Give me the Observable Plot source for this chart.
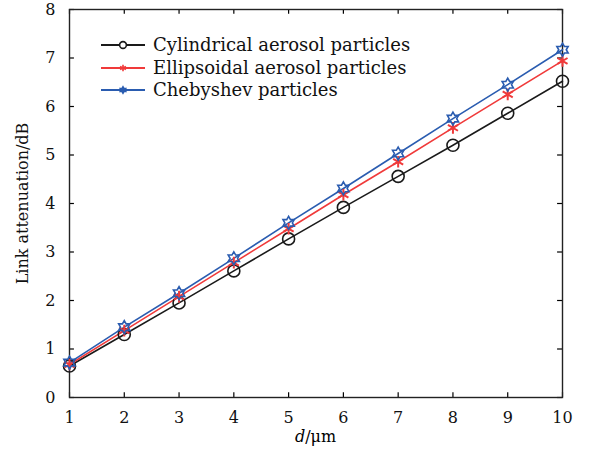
<!DOCTYPE html>
<html><head><meta charset="utf-8">
<script src="https://cdn.jsdelivr.net/npm/d3@7"></script>
<script src="https://cdn.jsdelivr.net/npm/@observablehq/plot@0.6"></script>
<style>
body{margin:0;background:#fff;}
#wrap{position:relative;width:591px;height:453px;font-family:"DejaVu Serif",serif;}
#legend{position:absolute;left:99px;top:34px;font-size:18px;line-height:22px;color:#111;font-family:"DejaVu Serif",serif;}
#legend .row{display:flex;align-items:center;height:22.5px;}
#legend svg{margin-right:6px;}
</style>
</head><body>
<div id="wrap"><div id="legend"></div></div>
<script>
const dValues = [1,2,3,4,5,6,7,8,9,10];
const cylindrical = [0.65,1.30,1.95,2.61,3.27,3.92,4.56,5.20,5.86,6.52];
const ellipsoidal = [0.68,1.38,2.08,2.78,3.48,4.18,4.86,5.56,6.25,6.94];
const chebyshev  = [0.72,1.45,2.15,2.87,3.60,4.31,5.03,5.75,6.45,7.17];
const seriesNames = ["Cylindrical aerosol particles","Ellipsoidal aerosol particles","Chebyshev particles"];
const seriesColors = ["#1a1a1a","#f03a3a","#2a5cb0"];
const xTicks = [1,2,3,4,5,6,7,8,9,10];
const yTicks = [0,1,2,3,4,5,6,7,8];

const xDomain = [1, 10], yDomain = [0, 8];
const xTickLen = 0.1, yTickLen = 0.09; // inward tick length in data units (~5px)

const hexagram = {
  draw(ctx, size) {
    const R = Math.sqrt(size / Math.PI);
    const r = R / Math.sqrt(3);
    for (let i = 0; i < 12; i++) {
      const a = -Math.PI/2 + i * Math.PI/6;
      const rr = i % 2 === 0 ? R : r;
      const x = rr*Math.cos(a), y = rr*Math.sin(a);
      if (i === 0) ctx.moveTo(x, y); else ctx.lineTo(x, y);
    }
    ctx.closePath();
  }
};
const symbols = [d3.symbolCircle, d3.symbolAsterisk, hexagram];
const radii = [6, 5.5, 6.5];

const rows = [];
[cylindrical, ellipsoidal, chebyshev].forEach((arr, s) =>
  arr.forEach((v, i) => rows.push({series: s, d: dValues[i], v})));

const marks = [];
for (let s = 0; s < 3; s++) {
  const data = rows.filter(r => r.series === s);
  marks.push(Plot.line(data, {x: "d", y: "v", stroke: seriesColors[s], strokeWidth: 1.6}));
}
for (let s = 0; s < 3; s++) {
  const data = rows.filter(r => r.series === s);
  marks.push(Plot.dot(data, {x: "d", y: "v", stroke: seriesColors[s], fill: "none",
    symbol: symbols[s], r: radii[s], strokeWidth: s === 1 ? 2 : 1.6}));
}

const tk = {stroke: "#000", strokeWidth: 1.2};

const chart = Plot.plot({
  width: 591, height: 453,
  marginLeft: 69, marginRight: 29, marginTop: 9, marginBottom: 56,
  style: {fontFamily: '"DejaVu Serif",serif', fontSize: "16px", color: "#111", background: "#fff"},
  x: {domain: xDomain, ticks: xTicks},
  y: {domain: yDomain, ticks: yTicks},
  marks: [
    Plot.ruleX(xTicks, {x: d => d, y1: yDomain[0], y2: yDomain[0] + xTickLen, ...tk}),
    Plot.ruleX(xTicks, {x: d => d, y1: yDomain[1], y2: yDomain[1] - xTickLen, ...tk}),
    Plot.ruleY(yTicks, {y: d => d, x1: xDomain[0], x2: xDomain[0] + yTickLen, ...tk}),
    Plot.ruleY(yTicks, {y: d => d, x1: xDomain[1], x2: xDomain[1] - yTickLen, ...tk}),
    Plot.frame({stroke: "#222", strokeWidth: 1.4}),
    Plot.axisX(xTicks, {anchor: "bottom", tickSize: 0, tickPadding: 14, label: null, fontSize: 16}),
    Plot.axisY(yTicks, {anchor: "left", tickSize: 0, tickPadding: 14, label: null, fontSize: 16}),
    Plot.text(["Link attenuation/dB"], {frameAnchor: "left", textAnchor: "middle", rotate: -90, dx: -47, fontSize: 16}),
    ...marks
  ]
});
document.getElementById("wrap").prepend(chart);

// x label with italic d
const xl = document.createElement("div");
xl.style.cssText = "position:absolute;left:0;width:591px;text-align:center;top:427px;font-size:16px;padding-left:40px;box-sizing:border-box;";
xl.innerHTML = "<i>d</i>/μm";
document.getElementById("wrap").appendChild(xl);

// legend
const leg = document.getElementById("legend");
seriesNames.forEach((name, s) => {
  const row = document.createElement("div");
  row.className = "row";
  const svg = d3.create("svg").attr("width", 48).attr("height", 16);
  svg.append("line").attr("x1", 2).attr("x2", 46).attr("y1", 8).attr("y2", 8)
    .attr("stroke", seriesColors[s]).attr("stroke-width", 2);
  svg.append("path").attr("transform", "translate(24,8)")
    .attr("d", d3.symbol(symbols[s], s === 0 ? 36 : 30)())
    .attr("fill", s === 0 ? "#fff" : seriesColors[s]).attr("stroke", seriesColors[s]).attr("stroke-width", 1.6);
  row.appendChild(svg.node());
  const t = document.createElement("span");
  t.textContent = name;
  row.appendChild(t);
  leg.appendChild(row);
});
</script>
</body></html>
